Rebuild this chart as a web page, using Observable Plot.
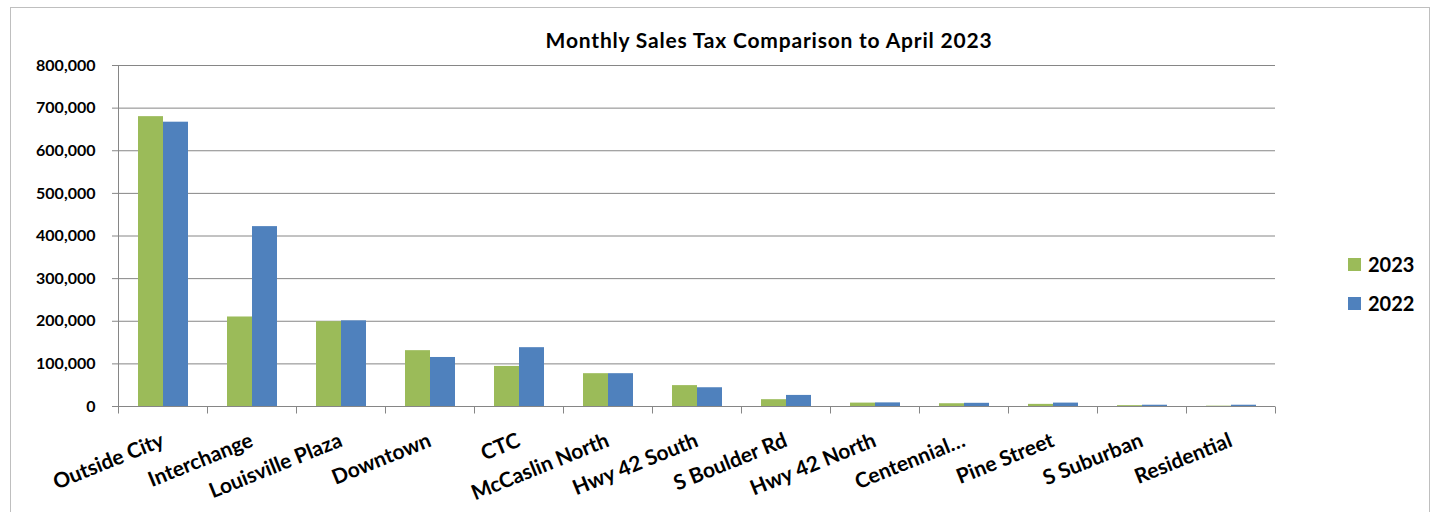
<!DOCTYPE html>
<html>
<head>
<meta charset="utf-8">
<script src="https://cdn.jsdelivr.net/npm/d3@7"></script>
<script src="https://cdn.jsdelivr.net/npm/@observablehq/plot@0.6"></script>
<style>
  html, body { margin: 0; padding: 0; background: #ffffff; }
  #wrap { position: relative; width: 1438px; height: 512px; overflow: hidden; font-family: Lato, "Open Sans", sans-serif; }
  #border { position: absolute; left: 10px; top: 7px; width: 1420px; height: 600px; border: 1px solid #bfbfbf; box-sizing: border-box; }
  #title { position: absolute; top: 29px; left: 769px; transform: translateX(-50%); white-space: nowrap; font-weight: bold; font-size: 21px; letter-spacing: 0.8px; line-height: 21px; color: #000; }
  #chart { position: absolute; left: 0; top: 0; }
  .lg { position: absolute; left: 1348px; display: flex; align-items: center; font-weight: bold; font-size: 20px; line-height: 20px; color: #000; }
  .sw { width: 13px; height: 13px; margin-right: 7px; }
</style>
</head>
<body>
<div id="wrap">
  <div id="border"></div>
  <div id="chart"></div>
  <div id="title"></div>
  <div id="legend"></div>
</div>
<script>
const titleText = "Monthly Sales Tax Comparison to April 2023";
const categories = ["Outside City", "Interchange", "Louisville Plaza", "Downtown", "CTC", "McCaslin North", "Hwy 42 South", "S Boulder Rd", "Hwy 42 North", "Centennial…", "Pine Street", "S Suburban", "Residential"];
const years = ["2023", "2022"];
const sales2023 = [680000, 210000, 199000, 131000, 94000, 77000, 49000, 16000, 8000, 6500, 5000, 2000, 800];
const sales2022 = [667000, 422000, 201000, 115000, 138000, 77000, 44000, 26000, 8500, 7500, 8000, 3000, 3000];
const yTicks = [0, 100000, 200000, 300000, 400000, 500000, 600000, 700000, 800000];
const colors = ["#9BBB59", "#4F81BD"];

const data = categories.flatMap((c, i) => [
  {cat: c, year: years[0], value: sales2023[i]},
  {cat: c, year: years[1], value: sales2022[i]}
]);

const gray = "#868686";

const plot = Plot.plot({
  width: 1438,
  height: 512,
  marginTop: 65,
  marginBottom: 106,
  marginLeft: 115,
  marginRight: 161,
  style: {fontFamily: "Lato, sans-serif", background: "transparent", color: "#000", overflow: "visible"},
  fx: {domain: categories, padding: 0, label: null},
  x: {domain: years, paddingInner: 0, paddingOuter: 0.753, axis: null},
  y: {domain: [0, 800000], label: null, axis: null},
  color: {domain: years, range: colors},
  marks: [
    Plot.ruleY(yTicks.filter(d => d > 0), {stroke: gray, strokeWidth: 1}),
    Plot.barY(data, {fx: "cat", x: "year", y: "value", fill: "year"}),
    Plot.ruleY([0], {stroke: gray}),
    Plot.axisY(yTicks, {tickSize: 6, tickPadding: 17, tickFormat: d3.format(","), fontSize: 16, fontWeight: "bold", stroke: gray, fill: "#000", label: null}),
    Plot.axisFx({anchor: "bottom", tickSize: 0, tickRotate: -22, tickPadding: 33, fontSize: 21, fontWeight: "bold", fill: "#000", label: null})
  ]
});

// axis line and category boundary ticks, positioned through Plot's own scales
const fx = plot.scale("fx");
const ys = plot.scale("y");
const svg = d3.select(plot);
const g = svg.append("g").attr("stroke", gray).attr("stroke-width", 1);
const y0 = Math.round(ys.apply(0)) + 0.5;
const yTop = Math.round(ys.apply(yTicks[yTicks.length - 1])) + 0.5;
const edges = categories.map(c => fx.apply(c)).concat([fx.apply(categories[categories.length - 1]) + fx.bandwidth]);
g.append("line").attr("x1", Math.round(edges[0]) + 0.5).attr("x2", Math.round(edges[0]) + 0.5).attr("y1", yTop).attr("y2", y0 + 6);
edges.forEach(x => {
  const xx = Math.round(x) + 0.5;
  g.append("line").attr("x1", xx).attr("x2", xx).attr("y1", y0).attr("y2", y0 + 7);
});

document.getElementById("chart").appendChild(plot);
document.getElementById("title").textContent = titleText;

const legend = document.getElementById("legend");
const legendTops = [254, 293];
years.forEach((yr, i) => {
  const row = document.createElement("div");
  row.className = "lg";
  row.style.top = legendTops[i] + "px";
  const sw = document.createElement("div");
  sw.className = "sw";
  sw.style.background = colors[i];
  const t = document.createElement("span");
  t.textContent = yr;
  row.appendChild(sw);
  row.appendChild(t);
  legend.appendChild(row);
});
</script>
</body>
</html>
